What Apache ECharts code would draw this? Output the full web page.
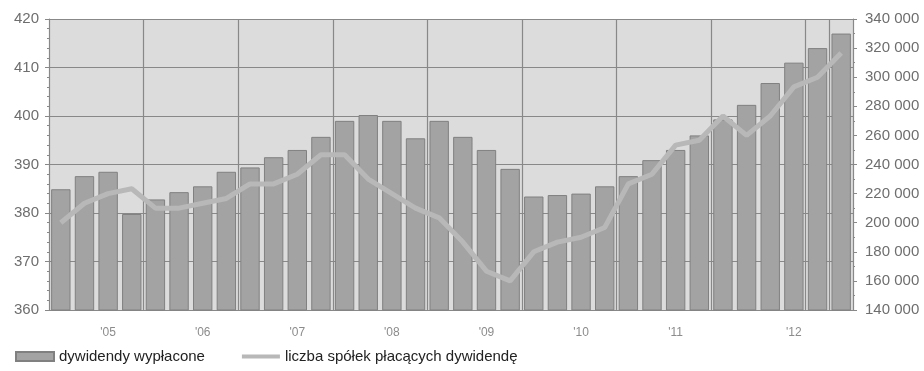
<!DOCTYPE html>
<html>
<head>
<meta charset="utf-8">
<script src="https://cdn.jsdelivr.net/npm/echarts@6/dist/echarts.min.js"></script>
<style>
  html, body { margin: 0; padding: 0; background: #fff; }
  #chart { width: 924px; height: 371px; }
</style>
</head>
<body>
<div id="chart"></div>
<script>
// quarterly bars, year label sits on a few of them
const quarterLabels = [
  '', '', "'05", '',
  '', '', "'06", '',
  '', '', "'07", '',
  '', '', "'08", '',
  '', '', "'09", '',
  '', '', "'10", '',
  '', '', "'11", '',
  '', '', '', "'12",
  '', ''
];
const categories = quarterLabels.map((_, i) => 'Q' + (i + 1));

// dywidendy wyplacone (right axis)
const dividends = [
  223000, 232000, 235000, 206000,
  216000, 221000, 225000, 235000,
  238000, 245000, 250000, 259000,
  270000, 274000, 270000, 258000,
  270000, 259000, 250000, 237000,
  218000, 219000, 220000, 225000,
  232000, 243000, 250000, 260000,
  271000, 281000, 296000, 310000,
  320000, 330000
];

// liczba spolek placacych dywidende (left axis)
const companies = [
  378, 382, 384, 385,
  381, 381, 382, 383,
  386, 386, 388, 392,
  392, 387, 384, 381,
  379, 374, 368, 366,
  372, 374, 375, 377,
  386, 388, 394, 395,
  400, 396, 400, 406,
  408, 413
];

const FONT = '"Liberation Sans", Arial, sans-serif';
const AXIS = '#888888';

const chart = echarts.init(document.getElementById('chart'));
chart.setOption({
  animation: false,
  textStyle: {fontFamily: FONT},
  grid: {
    left: 49, right: 71, top: 19, bottom: 61,
    show: true, backgroundColor: '#dcdcdc', borderWidth: 0,
  },
  legend: {
    left: 15, top: 349, padding: 0,
    itemWidth: 38, itemHeight: 9, itemGap: 37,
    textStyle: {fontFamily: FONT, fontSize: 15, color: '#222'},
    data: [
      {name: 'dywidendy wypłacone', icon: 'rect'},
      {name: 'liczba spółek płacących dywidendę', icon: 'path://M0,0H38V4H0Z'},
    ],
  },
  xAxis: {
    type: 'category',
    data: categories,
    boundaryGap: true,
    axisLine: {lineStyle: {color: AXIS, width: 1}},
    axisTick: {interval: 1, length: 4, lineStyle: {color: AXIS}},
    axisLabel: {
      interval: 0,
      margin: 17,
      color: '#8c8c8c',
      fontSize: 12,
      fontFamily: FONT,
      formatter: (v, i) => quarterLabels[i],
    },
    splitLine: {show: true, interval: 3, lineStyle: {color: AXIS, width: 1.2}},
  },
  yAxis: [
    {
      type: 'value',
      min: 360, max: 420, interval: 10,
      axisLine: {show: true, lineStyle: {color: AXIS}},
      axisTick: {show: true, length: 4, lineStyle: {color: AXIS}},
      minorTick: {show: true, splitNumber: 5, length: 2, lineStyle: {color: AXIS}},
      axisLabel: {color: '#6e6e6e', fontSize: 15, margin: 10, fontFamily: FONT},
      splitLine: {lineStyle: {color: AXIS, width: 1.2}},
    },
    {
      type: 'value',
      min: 140000, max: 340000, interval: 20000,
      position: 'right',
      axisLine: {show: true, lineStyle: {color: AXIS}},
      axisTick: {show: true, length: 4, lineStyle: {color: AXIS}},
      minorTick: {show: true, splitNumber: 2, length: 2, lineStyle: {color: AXIS}},
      axisLabel: {
        color: '#6e6e6e', fontSize: 15, margin: 12, fontFamily: FONT,
        formatter: v => String(v).replace(/\B(?=(\d{3})+(?!\d))/g, ' '),
      },
      splitLine: {show: false},
    },
  ],
  series: [
    {
      name: 'dywidendy wypłacone',
      type: 'bar',
      yAxisIndex: 1,
      data: dividends,
      barCategoryGap: '18%',
      itemStyle: {color: '#a3a3a3', borderColor: '#808080', borderWidth: 1},
    },
    {
      name: 'liczba spółek płacących dywidendę',
      type: 'line',
      yAxisIndex: 0,
      data: companies,
      symbol: 'none',
      z: 5,
      lineStyle: {color: '#b8b8b8', width: 5},
      itemStyle: {color: '#b8b8b8'},
    },
  ],
});
</script>
</body>
</html>
